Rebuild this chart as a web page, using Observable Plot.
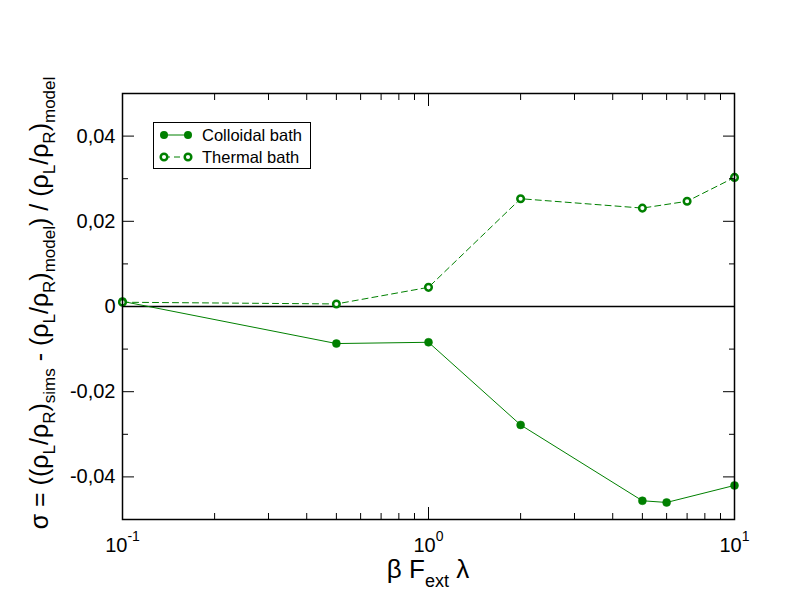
<!DOCTYPE html>
<html>
<head>
<meta charset="utf-8">
<script src="https://cdn.jsdelivr.net/npm/d3@7"></script>
<script src="https://cdn.jsdelivr.net/npm/@observablehq/plot@0.6"></script>
<style>
  html, body { margin: 0; padding: 0; background: #fff; }
  #chart { width: 792px; height: 612px; }
</style>
</head>
<body>
<div id="chart"></div>
<script>
// ---- data ----
const colloidalX = [0.1, 0.5, 1, 2, 5, 6, 10];
const colloidalY = [0.0012, -0.0087, -0.0084, -0.0278, -0.0456, -0.0460, -0.0420];
const thermalX = [0.1, 0.5, 1, 2, 5, 7, 10];
const thermalY = [0.0010, 0.0006, 0.0045, 0.0253, 0.0231, 0.0247, 0.0303];
const seriesNames = ["Colloidal bath", "Thermal bath"];
const yMajorTicks = [-0.04, -0.02, 0, 0.02, 0.04];
const yMinorTicks = [-0.03, -0.01, 0.01, 0.03];
const xMajorTicks = [0.1, 1, 10];
const xMinorTicks = [0.2, 0.3, 0.4, 0.5, 0.6, 0.7, 0.8, 0.9, 2, 3, 4, 5, 6, 7, 8, 9];

const colloidal = colloidalX.map((x, i) => ({x, y: colloidalY[i]}));
const thermal = thermalX.map((x, i) => ({x, y: thermalY[i]}));

const green = "#008000";
const yFmt = d => d === 0 ? "0" : d3.format(".2f")(d).replace(".", ",").replace("\u2212", "-");
const xFmt = d => "10^" + Math.round(Math.log10(d));
const blank = () => "";

const plot = Plot.plot({
  width: 792,
  height: 612,
  marginLeft: 122,
  marginRight: 58,
  marginTop: 93,
  marginBottom: 93,
  style: {fontFamily: "'Liberation Sans', Arial, sans-serif", background: "#fff", color: "#000"},
  x: {type: "log", domain: [0.1, 10]},
  y: {domain: [-0.05, 0.05]},
  marks: [
    Plot.ruleY([0], {stroke: "#000", strokeWidth: 1.5}),
    Plot.line(colloidal, {x: "x", y: "y", stroke: green, strokeWidth: 1}),
    Plot.line(thermal, {x: "x", y: "y", stroke: green, strokeWidth: 1, strokeDasharray: "6,4"}),
    Plot.dot(colloidal, {x: "x", y: "y", r: 4, fill: green, stroke: green, strokeWidth: 0.5}),
    Plot.dot(thermal, {x: "x", y: "y", r: 3.3, fill: "#fff", stroke: green, strokeWidth: 2.5}),
    // axes with inward ticks
    Plot.axisY({anchor: "left", ticks: yMajorTicks, tickSize: -12, tickPadding: 19, tickFormat: yFmt, fontSize: 20, label: null}),
    Plot.axisY({anchor: "left", ticks: yMinorTicks, tickSize: -6, tickFormat: blank, label: null}),
    Plot.axisY({anchor: "right", ticks: yMajorTicks, tickSize: -12, tickFormat: blank, label: null}),
    Plot.axisY({anchor: "right", ticks: yMinorTicks, tickSize: -6, tickFormat: blank, label: null}),
    Plot.axisX({anchor: "bottom", ticks: xMajorTicks, tickSize: -12, tickPadding: 30, tickFormat: xFmt, fontSize: 20, label: null}),
    Plot.axisX({anchor: "bottom", ticks: xMinorTicks, tickSize: -6, tickFormat: blank, label: null}),
    Plot.axisX({anchor: "top", ticks: xMajorTicks, tickSize: -12, tickFormat: blank, label: null}),
    Plot.axisX({anchor: "top", ticks: xMinorTicks, tickSize: -6, tickFormat: blank, label: null}),
    Plot.frame({stroke: "#000", strokeWidth: 1.5})
  ]
});

document.getElementById("chart").appendChild(plot);
const svg = d3.select(plot);

// superscript tick labels 10^n
svg.selectAll("text").each(function() {
  const t = this.textContent;
  if (/^10\^/.test(t)) {
    const exp = t.split("^")[1];
    const sel = d3.select(this);
    sel.text(null);
    sel.append("tspan").text("10");
    sel.append("tspan").attr("dy", "-0.75em").attr("font-size", "14px").text(exp);
  }
});

const fontFam = "'Liberation Sans', Arial, sans-serif";

// x label: β F_ext λ
const xl = svg.append("text")
  .attr("x", 428).attr("y", 578)
  .attr("text-anchor", "middle")
  .attr("font-family", fontFam)
  .attr("font-size", 26)
  .attr("fill", "#000");
xl.append("tspan").text("\u03B2 F");
xl.append("tspan").attr("dy", 9).attr("font-size", 18).text("ext");
xl.append("tspan").attr("dy", -9).text(" \u03BB");

// y label
const yl = svg.append("text")
  .attr("transform", "translate(48,303) rotate(-90)")
  .attr("text-anchor", "middle")
  .attr("font-family", fontFam)
  .attr("font-size", 25)
  .attr("fill", "#000");
const parts = [
  ["\u03C3 = ((\u03C1", 0], ["L", 1], ["/\u03C1", 0], ["R", 1], [")", 0], ["sims", 1],
  [" - (\u03C1", 0], ["L", 1], ["/\u03C1", 0], ["R", 1], [")", 0], ["model", 1],
  [") / (\u03C1", 0], ["L", 1], ["/\u03C1", 0], ["R", 1], [")", 0], ["model", 1]
];
let level = 0;
for (const [s, sub] of parts) {
  const ts = yl.append("tspan").text(s);
  if (sub && !level) { ts.attr("dy", 7).attr("font-size", 17); level = 1; }
  else if (sub) { ts.attr("font-size", 17); }
  else if (level) { ts.attr("dy", -7); level = 0; }
}

// legend
const lg = svg.append("g").attr("text-anchor", "start");
lg.append("rect").attr("x", 153.5).attr("y", 122.5).attr("width", 157).attr("height", 46)
  .attr("fill", "#fff").attr("stroke", "#000").attr("stroke-width", 1);
const rows = [
  {name: seriesNames[0], y: 135, dash: null, filled: true},
  {name: seriesNames[1], y: 157, dash: "6,4", filled: false}
];
for (const r of rows) {
  lg.append("line").attr("x1", 164).attr("x2", 188).attr("y1", r.y).attr("y2", r.y)
    .attr("stroke", green).attr("stroke-width", 1).attr("stroke-dasharray", r.dash);
  for (const cx of [164, 188]) {
    if (r.filled) lg.append("circle").attr("cx", cx).attr("cy", r.y).attr("r", 4).attr("fill", green);
    else lg.append("circle").attr("cx", cx).attr("cy", r.y).attr("r", 3.3).attr("fill", "#fff")
      .attr("stroke", green).attr("stroke-width", 2.5);
  }
  lg.append("text").attr("x", 202).attr("y", r.y + 6).attr("text-anchor", "start").attr("font-family", fontFam)
    .attr("font-size", 16.5).attr("fill", "#000").text(r.name);
}
</script>
</body>
</html>
